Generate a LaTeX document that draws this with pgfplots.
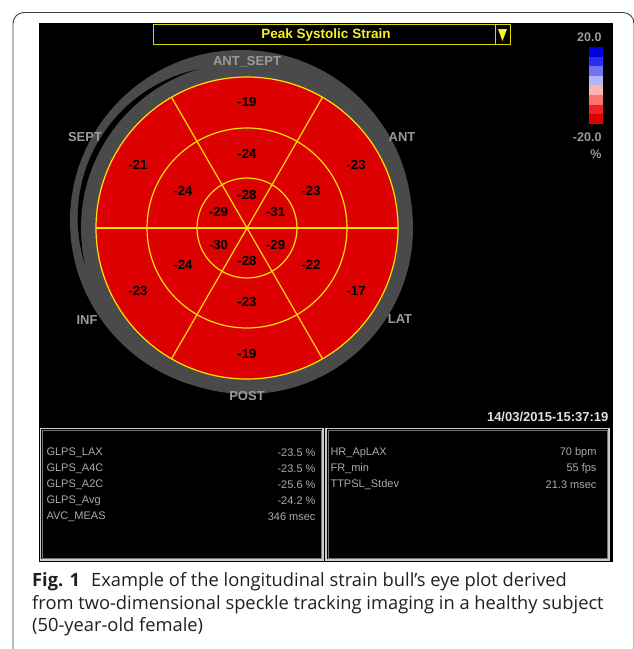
\documentclass[border=0pt]{standalone}
\usepackage{fontspec}
\setmainfont{Liberation Sans}
\newfontfamily\capfont{Open Sans}
\usepackage{pgfplots}
\pgfplotsset{compat=1.18}
\usepackage{pgfplotstable}

\definecolor{segred}{RGB}{221,0,0}
\definecolor{segyel}{RGB}{255,225,0}
\definecolor{ringgray}{RGB}{74,74,74}
\definecolor{lblgray}{RGB}{155,155,155}
\definecolor{txtgray}{RGB}{170,170,170}
\definecolor{ttlyel}{RGB}{250,240,40}
\definecolor{boxyel}{RGB}{225,215,0}
\definecolor{capblack}{RGB}{35,31,32}
\definecolor{cb1}{RGB}{0,0,220}
\definecolor{cb2}{RGB}{45,45,240}
\definecolor{cb3}{RGB}{115,115,240}
\definecolor{cb4}{RGB}{180,180,250}
\definecolor{cb5}{RGB}{255,180,180}
\definecolor{cb6}{RGB}{250,115,115}
\definecolor{cb7}{RGB}{240,35,35}
\definecolor{cb8}{RGB}{220,0,0}

% segment values (x,y in image pixels, y downwards)
\pgfplotstableread{
x y v
247 102 -19
356.1 165 -23
356.1 291 -17
247 354 -19
137.9 291 -23
137.9 165 -21
247 154 -24
311.1 191 -23
311.1 265 -22
247 302 -23
182.9 265 -24
182.9 191 -24
247 195 -28
275.6 211.5 -31
275.6 244.5 -29
247 261 -28
218.4 244.5 -30
218.4 211.5 -29
}\segtable

\begin{document}
\begin{tikzpicture}
\begin{axis}[scale only axis, width=633pt, height=649pt,
  xmin=0, xmax=633, ymin=0, ymax=649, y dir=reverse,
  hide axis, clip=false]
% background and frame
\fill[white] (axis cs:0,0) rectangle (axis cs:633,649);
\draw[black!75, line width=0.9pt, rounded corners=11pt] (axis cs:13,700) -- (axis cs:13,12.5) -- (axis cs:634,12.5) -- (axis cs:634,700);
% black panel
\fill[black] (axis cs:39,23) rectangle (axis cs:612.5,562);
% grey ring
\fill[ringgray] (axis cs:241,221) circle[radius=171];
\fill[black] (axis cs:229.7,218) circle[radius=152];
\fill[ringgray] (axis cs:247,228) circle[radius=166];
% red disc
\fill[segred] (axis cs:247,228) circle[radius=151];
% yellow grid
\draw[segyel, line width=1.2pt] (axis cs:247,228) circle[radius=151];
\draw[segyel, line width=1.2pt] (axis cs:247,228) circle[radius=100];
\draw[segyel, line width=1.2pt] (axis cs:247,228) circle[radius=50];
\addplot[segyel, line width=1.2pt] coordinates {(96,228) (398,228)};
\addplot[segyel, line width=1.2pt] coordinates {(322.5,97.2) (171.5,358.8)};
\addplot[segyel, line width=1.2pt] coordinates {(171.5,97.2) (322.5,358.8)};
% segment values
\addplot[draw=none, mark=none, nodes near coords, point meta=explicit symbolic,
  every node near coord/.append style={anchor=center, text=black, inner sep=0pt,
  font=\bfseries\fontsize{13.2}{13.2}\selectfont}] table[meta=v] {\segtable};
% segment names
\begin{scope}[every node/.style={text=lblgray, font=\bfseries\fontsize{13}{13}\selectfont}]
\node at (axis cs:247,62) {ANT\_SEPT};
\node at (axis cs:85,137) {SEPT};
\node at (axis cs:402,137) {ANT};
\node at (axis cs:87,320) {INF};
\node at (axis cs:400,319) {LAT};
\node at (axis cs:247,396) {POST};
\end{scope}
% title box
\draw[boxyel, line width=1pt] (axis cs:153,24.5) rectangle (axis cs:510,44);
\draw[boxyel, line width=1pt] (axis cs:495,24.5) -- (axis cs:495,44);
\fill[ttlyel] (axis cs:498,29) -- (axis cs:507,29) -- (axis cs:502.5,41) -- cycle;
\node[text=ttlyel, font=\bfseries\fontsize{13.5}{13.5}\selectfont] at (axis cs:326,35) {Peak Systolic Strain};
% colour bar
\fill[cb1] (axis cs:589,47) rectangle (axis cs:603,56.7);
\fill[cb2] (axis cs:589,56.6) rectangle (axis cs:603,66.3);
\fill[cb3] (axis cs:589,66.2) rectangle (axis cs:603,75.9);
\fill[cb4] (axis cs:589,75.8) rectangle (axis cs:603,85.5);
\fill[cb5] (axis cs:589,85.4) rectangle (axis cs:603,95.1);
\fill[cb6] (axis cs:589,95.0) rectangle (axis cs:603,104.7);
\fill[cb7] (axis cs:589,104.6) rectangle (axis cs:603,114.3);
\fill[cb8] (axis cs:589,114.2) rectangle (axis cs:603,124);
\begin{scope}[every node/.style={text=lblgray, font=\bfseries\fontsize{12.5}{12.5}\selectfont}]
\node[anchor=east] at (axis cs:605,37) {20.0};
\node[anchor=east] at (axis cs:605,137) {-20.0};
\node at (axis cs:596,154) {\%};
\end{scope}
% date
\node[anchor=east, text=white!88!black, font=\bfseries\fontsize{13}{13}\selectfont] at (axis cs:612,417) {14/03/2015-15:37:19};
% bottom panels
\draw[white!80!black, line width=1.3pt] (axis cs:40.5,428.5) rectangle (axis cs:323,560);
\draw[white!45!black, line width=0.6pt] (axis cs:42.5,430.5) rectangle (axis cs:321,558);
\draw[white!80!black, line width=1.3pt] (axis cs:326,428.5) rectangle (axis cs:609,560);
\draw[white!45!black, line width=0.6pt] (axis cs:328,430.5) rectangle (axis cs:607,558);
\begin{scope}[every node/.style={text=txtgray, font=\fontsize{11}{11}\selectfont}]
\node[anchor=west] at (axis cs:43,453) {GLPS\_LAX};
\node[anchor=west] at (axis cs:43,469) {GLPS\_A4C};
\node[anchor=west] at (axis cs:43,485) {GLPS\_A2C};
\node[anchor=west] at (axis cs:43,501) {GLPS\_Avg};
\node[anchor=west] at (axis cs:43,517) {AVC\_MEAS};
\node[anchor=east] at (axis cs:319,453) {-23.5 \%};
\node[anchor=east] at (axis cs:319,469) {-23.5 \%};
\node[anchor=east] at (axis cs:319,485) {-25.6 \%};
\node[anchor=east] at (axis cs:319,501) {-24.2 \%};
\node[anchor=east] at (axis cs:319,517) {346 msec};
\node[anchor=west] at (axis cs:327,453) {HR\_ApLAX};
\node[anchor=west] at (axis cs:327,469) {FR\_min};
\node[anchor=west] at (axis cs:327,485) {TTPSL\_Stdev};
\node[anchor=east] at (axis cs:600,453) {70 bpm};
\node[anchor=east] at (axis cs:600,469) {55 fps};
\node[anchor=east] at (axis cs:600,485) {21.3 msec};
\end{scope}
% caption
\begin{scope}[every node/.style={text=capblack, anchor=base west, inner sep=0pt, font=\capfont\fontsize{18.3}{22}\selectfont}]
\node at (axis cs:32,586.5) {\textbf{Fig. 1}\hspace{0.6em}Example of the longitudinal strain bull’s eye plot derived};
\node at (axis cs:32,609) {from two-dimensional speckle tracking imaging in a healthy subject};
\node at (axis cs:32,631.5) {(50-year-old female)};
\end{scope}
\end{axis}
\pgfresetboundingbox
\path (0,0) rectangle (633pt,649pt);
\end{tikzpicture}
\end{document}
